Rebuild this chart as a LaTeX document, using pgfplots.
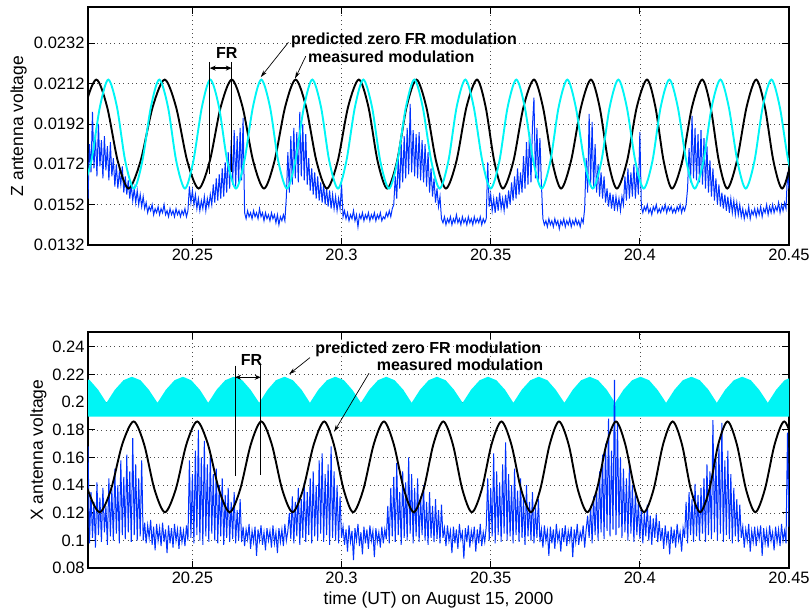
\documentclass[border=0pt]{standalone}
\usepackage{fontspec}
\setmainfont{Liberation Sans}
\usepackage{pgfplots}
\pgfplotsset{compat=1.18}
\usetikzlibrary{arrows.meta}
\definecolor{mcyan}{RGB}{0,245,245}
\definecolor{mblue}{RGB}{0,50,255}
\pgfplotsset{
  mstyle/.style={
    scale only axis, width=701pt,
    xmin=20.215, xmax=20.45,
    xtick={20.25,20.3,20.35,20.4,20.45},
    scaled x ticks=false, scaled y ticks=false,
    /pgf/number format/assume math mode=true,
    tick align=inside,
    major tick length=7pt,
    every tick/.style={black, line width=0.9pt},
    axis line style={line width=2pt},
    grid=major,
    grid style={black!70, line width=0.6pt, dash pattern=on 0.8pt off 3.6pt},
    tick label style={font=\fontsize{16.5}{19}\selectfont},
    xticklabel style={/pgf/number format/.cd, fixed, precision=2},
  },
}
\tikzset{
  annot/.style={font=\bfseries\fontsize{16}{19}\selectfont, inner sep=0pt},
  thinarrow/.style={line width=0.7pt, -{Stealth[length=7pt,width=4pt]}},
  frarrow/.style={line width=1.3pt, {Stealth[length=6pt,width=5pt]}-{Stealth[length=6pt,width=5pt]}},
  labfont/.style={font=\fontsize{17.5}{20}\selectfont},
}
\begin{document}
\begin{tikzpicture}
\path[use as bounding box] (0pt,0pt) rectangle (812pt,616pt);
% ---------------- top panel ----------------
\begin{axis}[mstyle, at={(88pt,371pt)}, anchor=south west, height=238pt,
  ymin=0.0132, ymax=0.0250,
  ytick={0.0132,0.0152,0.0172,0.0192,0.0212,0.0232},
  yticklabel style={/pgf/number format/.cd, fixed, precision=4},
  ylabel={Z antenna voltage},
  every axis y label/.style={at={(axis description cs:-0.0991,0.5)}, rotate=90, anchor=center, labfont},
]
\addplot[mblue, line width=1pt] table {
x y
20.2150 0.0155
20.2155 0.0182
20.2160 0.0168
20.2165 0.0198
20.2170 0.0170
20.2175 0.0187
20.2180 0.0166
20.2185 0.0192
20.2190 0.0171
20.2195 0.0184
20.2200 0.0165
20.2205 0.0186
20.2210 0.0169
20.2215 0.0181
20.2220 0.0164
20.2225 0.0183
20.2230 0.0166
20.2235 0.0175
20.2240 0.0161
20.2245 0.0172
20.2250 0.0160
20.2255 0.0168
20.2260 0.0162
20.2265 0.0171
20.2270 0.0158
20.2275 0.0166
20.2280 0.0157
20.2285 0.0164
20.2290 0.0155
20.2295 0.0162
20.2300 0.0154
20.2305 0.0160
20.2310 0.0153
20.2315 0.0159
20.2320 0.0152
20.2325 0.0157
20.2330 0.0151
20.2335 0.0156
20.2340 0.0150
20.2345 0.0153
20.2350 0.0148
20.2355 0.0151
20.2360 0.0149
20.2365 0.0152
20.2370 0.0147
20.2375 0.0150
20.2380 0.0148
20.2385 0.0151
20.2390 0.0147
20.2395 0.0150
20.2400 0.0148
20.2405 0.0152
20.2410 0.0147
20.2415 0.0149
20.2420 0.0146
20.2425 0.0150
20.2430 0.0147
20.2435 0.0149
20.2440 0.0146
20.2445 0.0150
20.2450 0.0147
20.2455 0.0149
20.2460 0.0146
20.2465 0.0149
20.2470 0.0147
20.2475 0.0150
20.2480 0.0146
20.2485 0.0149
20.2490 0.0161
20.2495 0.0153
20.2500 0.0159
20.2505 0.0152
20.2510 0.0157
20.2515 0.0150
20.2520 0.0155
20.2525 0.0149
20.2530 0.0154
20.2535 0.0150
20.2540 0.0156
20.2545 0.0149
20.2550 0.0155
20.2555 0.0151
20.2560 0.0157
20.2565 0.0152
20.2570 0.0162
20.2575 0.0153
20.2580 0.0165
20.2585 0.0154
20.2590 0.0167
20.2595 0.0155
20.2600 0.0170
20.2605 0.0156
20.2610 0.0173
20.2615 0.0158
20.2620 0.0178
20.2625 0.0160
20.2630 0.0184
20.2635 0.0162
20.2640 0.0189
20.2645 0.0161
20.2650 0.0186
20.2655 0.0163
20.2660 0.0190
20.2665 0.0164
20.2670 0.0195
20.2675 0.0148
20.2680 0.0145
20.2685 0.0149
20.2690 0.0146
20.2695 0.0148
20.2700 0.0145
20.2705 0.0149
20.2710 0.0146
20.2715 0.0148
20.2720 0.0145
20.2725 0.0150
20.2730 0.0146
20.2735 0.0148
20.2740 0.0144
20.2745 0.0148
20.2750 0.0145
20.2755 0.0147
20.2760 0.0144
20.2765 0.0148
20.2770 0.0145
20.2775 0.0147
20.2780 0.0143
20.2785 0.0147
20.2790 0.0142
20.2795 0.0146
20.2800 0.0144
20.2805 0.0147
20.2810 0.0144
20.2815 0.0156
20.2820 0.0178
20.2825 0.0158
20.2830 0.0186
20.2835 0.0162
20.2840 0.0190
20.2845 0.0165
20.2850 0.0188
20.2855 0.0163
20.2860 0.0198
20.2865 0.0166
20.2870 0.0192
20.2875 0.0164
20.2880 0.0187
20.2885 0.0162
20.2890 0.0175
20.2895 0.0159
20.2900 0.0170
20.2905 0.0157
20.2910 0.0168
20.2915 0.0155
20.2920 0.0166
20.2925 0.0154
20.2930 0.0163
20.2935 0.0153
20.2940 0.0162
20.2945 0.0152
20.2950 0.0160
20.2955 0.0151
20.2960 0.0159
20.2965 0.0150
20.2970 0.0157
20.2975 0.0150
20.2980 0.0156
20.2985 0.0149
20.2990 0.0155
20.2995 0.0150
20.3000 0.0162
20.3005 0.0146
20.3010 0.0149
20.3015 0.0145
20.3020 0.0148
20.3025 0.0144
20.3030 0.0147
20.3035 0.0145
20.3040 0.0149
20.3045 0.0144
20.3050 0.0147
20.3055 0.0141
20.3060 0.0147
20.3065 0.0145
20.3070 0.0148
20.3075 0.0144
20.3080 0.0147
20.3085 0.0145
20.3090 0.0148
20.3095 0.0144
20.3100 0.0147
20.3105 0.0145
20.3110 0.0148
20.3115 0.0144
20.3120 0.0147
20.3125 0.0145
20.3130 0.0148
20.3135 0.0144
20.3140 0.0146
20.3145 0.0145
20.3150 0.0148
20.3155 0.0146
20.3160 0.0149
20.3165 0.0146
20.3170 0.0150
20.3175 0.0152
20.3180 0.0166
20.3185 0.0155
20.3190 0.0175
20.3195 0.0160
20.3200 0.0182
20.3205 0.0163
20.3210 0.0186
20.3215 0.0165
20.3220 0.0190
20.3225 0.0167
20.3230 0.0202
20.3235 0.0168
20.3240 0.0189
20.3245 0.0166
20.3250 0.0187
20.3255 0.0165
20.3260 0.0188
20.3265 0.0164
20.3270 0.0184
20.3275 0.0163
20.3280 0.0182
20.3285 0.0161
20.3290 0.0178
20.3295 0.0158
20.3300 0.0170
20.3305 0.0156
20.3310 0.0165
20.3315 0.0153
20.3320 0.0160
20.3325 0.0151
20.3330 0.0156
20.3335 0.0145
20.3340 0.0143
20.3345 0.0146
20.3350 0.0142
20.3355 0.0145
20.3360 0.0143
20.3365 0.0146
20.3370 0.0142
20.3375 0.0145
20.3380 0.0143
20.3385 0.0147
20.3390 0.0143
20.3395 0.0145
20.3400 0.0142
20.3405 0.0146
20.3410 0.0143
20.3415 0.0145
20.3420 0.0142
20.3425 0.0146
20.3430 0.0143
20.3435 0.0145
20.3440 0.0142
20.3445 0.0146
20.3450 0.0143
20.3455 0.0145
20.3460 0.0143
20.3465 0.0146
20.3470 0.0142
20.3475 0.0145
20.3480 0.0143
20.3485 0.0145
20.3490 0.0173
20.3495 0.0151
20.3500 0.0157
20.3505 0.0149
20.3510 0.0155
20.3515 0.0148
20.3520 0.0156
20.3525 0.0149
20.3530 0.0158
20.3535 0.0150
20.3540 0.0155
20.3545 0.0149
20.3550 0.0157
20.3555 0.0150
20.3560 0.0159
20.3565 0.0152
20.3570 0.0163
20.3575 0.0154
20.3580 0.0166
20.3585 0.0155
20.3590 0.0170
20.3595 0.0157
20.3600 0.0168
20.3605 0.0158
20.3610 0.0176
20.3615 0.0160
20.3620 0.0183
20.3625 0.0162
20.3630 0.0188
20.3635 0.0163
20.3640 0.0191
20.3645 0.0205
20.3650 0.0165
20.3655 0.0190
20.3660 0.0164
20.3665 0.0185
20.3670 0.0162
20.3675 0.0145
20.3680 0.0142
20.3685 0.0144
20.3690 0.0141
20.3695 0.0145
20.3700 0.0142
20.3705 0.0144
20.3710 0.0141
20.3715 0.0145
20.3720 0.0142
20.3725 0.0144
20.3730 0.0140
20.3735 0.0144
20.3740 0.0142
20.3745 0.0145
20.3750 0.0141
20.3755 0.0144
20.3760 0.0142
20.3765 0.0145
20.3770 0.0141
20.3775 0.0144
20.3780 0.0142
20.3785 0.0145
20.3790 0.0142
20.3795 0.0144
20.3800 0.0141
20.3805 0.0145
20.3810 0.0143
20.3815 0.0150
20.3820 0.0175
20.3825 0.0158
20.3830 0.0197
20.3835 0.0162
20.3840 0.0193
20.3845 0.0160
20.3850 0.0182
20.3855 0.0158
20.3860 0.0172
20.3865 0.0156
20.3870 0.0168
20.3875 0.0155
20.3880 0.0166
20.3885 0.0153
20.3890 0.0160
20.3895 0.0151
20.3900 0.0158
20.3905 0.0150
20.3910 0.0157
20.3915 0.0149
20.3920 0.0156
20.3925 0.0150
20.3930 0.0155
20.3935 0.0149
20.3940 0.0156
20.3945 0.0152
20.3950 0.0166
20.3955 0.0154
20.3960 0.0170
20.3965 0.0155
20.3970 0.0168
20.3975 0.0156
20.3980 0.0172
20.3985 0.0155
20.3990 0.0169
20.3995 0.0157
20.4000 0.0188
20.4005 0.0151
20.4010 0.0148
20.4015 0.0151
20.4020 0.0149
20.4025 0.0152
20.4030 0.0148
20.4035 0.0150
20.4040 0.0147
20.4045 0.0151
20.4050 0.0149
20.4055 0.0152
20.4060 0.0148
20.4065 0.0150
20.4070 0.0148
20.4075 0.0151
20.4080 0.0149
20.4085 0.0152
20.4090 0.0148
20.4095 0.0151
20.4100 0.0149
20.4105 0.0151
20.4110 0.0148
20.4115 0.0150
20.4120 0.0148
20.4125 0.0151
20.4130 0.0149
20.4135 0.0152
20.4140 0.0148
20.4145 0.0151
20.4150 0.0149
20.4155 0.0152
20.4160 0.0160
20.4165 0.0180
20.4170 0.0163
20.4175 0.0196
20.4180 0.0165
20.4185 0.0190
20.4190 0.0164
20.4195 0.0187
20.4200 0.0163
20.4205 0.0189
20.4210 0.0162
20.4215 0.0185
20.4220 0.0160
20.4225 0.0181
20.4230 0.0158
20.4235 0.0174
20.4240 0.0156
20.4245 0.0170
20.4250 0.0154
20.4255 0.0165
20.4260 0.0152
20.4265 0.0162
20.4270 0.0151
20.4275 0.0158
20.4280 0.0150
20.4285 0.0157
20.4290 0.0149
20.4295 0.0156
20.4300 0.0148
20.4305 0.0155
20.4310 0.0148
20.4315 0.0154
20.4320 0.0147
20.4325 0.0153
20.4330 0.0147
20.4335 0.0152
20.4340 0.0146
20.4345 0.0150
20.4350 0.0145
20.4355 0.0149
20.4360 0.0146
20.4365 0.0151
20.4370 0.0145
20.4375 0.0149
20.4380 0.0147
20.4385 0.0150
20.4390 0.0146
20.4395 0.0150
20.4400 0.0147
20.4405 0.0151
20.4410 0.0146
20.4415 0.0150
20.4420 0.0148
20.4425 0.0152
20.4430 0.0147
20.4435 0.0151
20.4440 0.0148
20.4445 0.0152
20.4450 0.0148
20.4455 0.0151
20.4460 0.0149
20.4465 0.0153
20.4470 0.0148
20.4475 0.0152
20.4480 0.0149
20.4485 0.0153
20.4490 0.0150
20.4495 0.0168
20.4500 0.0160
};
\addplot[black, line width=1.9pt, smooth] coordinates {
(20.2064,0.0160) (20.2102,0.01735) (20.2140,0.02005) (20.2178,0.0214) (20.2214,0.02005) (20.2250,0.01735)
(20.2286,0.0160) (20.2326,0.01735) (20.2367,0.02005) (20.2407,0.0214) (20.2445,0.02005) (20.2483,0.01735)
(20.2521,0.0160) (20.2558,0.01735) (20.2595,0.02005) (20.2632,0.0214) (20.2668,0.02005) (20.2704,0.01735)
(20.2740,0.0160) (20.2775,0.01735) (20.2811,0.02005) (20.2846,0.0214) (20.2881,0.02005) (20.2916,0.01735)
(20.2951,0.0160) (20.2987,0.01735) (20.3022,0.02005) (20.3058,0.0214) (20.3090,0.02005) (20.3121,0.01735)
(20.3153,0.0160) (20.3186,0.01735) (20.3218,0.02005) (20.3251,0.0214) (20.3284,0.02005) (20.3317,0.01735)
(20.3350,0.0160) (20.3385,0.01735) (20.3419,0.02005) (20.3454,0.0214) (20.3483,0.02005) (20.3512,0.01735)
(20.3541,0.0160) (20.3576,0.01735) (20.3610,0.02005) (20.3645,0.0214) (20.3675,0.02005) (20.3706,0.01735)
(20.3736,0.0160) (20.3769,0.01735) (20.3803,0.02005) (20.3836,0.0214) (20.3865,0.02005) (20.3894,0.01735)
(20.3923,0.0160) (20.3957,0.01735) (20.3990,0.02005) (20.4024,0.0214) (20.4052,0.02005) (20.4080,0.01735)
(20.4108,0.0160) (20.4142,0.01735) (20.4175,0.02005) (20.4209,0.0214) (20.4237,0.02005) (20.4265,0.01735)
(20.4293,0.0160) (20.4325,0.01735) (20.4358,0.02005) (20.4390,0.0214) (20.4419,0.02005) (20.4448,0.01735)
(20.4477,0.0160) (20.4507,0.01735) (20.4538,0.02005) (20.4568,0.0214)
};
\addplot[mcyan, line width=1.9pt, smooth] coordinates {
(20.2133,0.0160) (20.2161,0.01735) (20.2190,0.02005) (20.2218,0.0214) (20.2247,0.02005) (20.2275,0.01735)
(20.2304,0.0160) (20.2332,0.01735) (20.2361,0.02005) (20.2389,0.0214) (20.2418,0.02005) (20.2446,0.01735)
(20.2475,0.0160) (20.2503,0.01735) (20.2532,0.02005) (20.2560,0.0214) (20.2589,0.02005) (20.2617,0.01735)
(20.2646,0.0160) (20.2674,0.01735) (20.2703,0.02005) (20.2731,0.0214) (20.2760,0.02005) (20.2788,0.01735)
(20.2817,0.0160) (20.2845,0.01735) (20.2874,0.02005) (20.2902,0.0214) (20.2931,0.02005) (20.2959,0.01735)
(20.2988,0.0160) (20.3016,0.01735) (20.3045,0.02005) (20.3073,0.0214) (20.3102,0.02005) (20.3130,0.01735)
(20.3159,0.0160) (20.3187,0.01735) (20.3216,0.02005) (20.3244,0.0214) (20.3272,0.02005) (20.3301,0.01735)
(20.3329,0.0160) (20.3358,0.01735) (20.3386,0.02005) (20.3415,0.0214) (20.3443,0.02005) (20.3472,0.01735)
(20.3500,0.0160) (20.3529,0.01735) (20.3557,0.02005) (20.3586,0.0214) (20.3614,0.02005) (20.3643,0.01735)
(20.3671,0.0160) (20.3700,0.01735) (20.3728,0.02005) (20.3757,0.0214) (20.3785,0.02005) (20.3814,0.01735)
(20.3842,0.0160) (20.3871,0.01735) (20.3899,0.02005) (20.3928,0.0214) (20.3956,0.02005) (20.3985,0.01735)
(20.4013,0.0160) (20.4042,0.01735) (20.4070,0.02005) (20.4099,0.0214) (20.4127,0.02005) (20.4156,0.01735)
(20.4184,0.0160) (20.4213,0.01735) (20.4241,0.02005) (20.4270,0.0214) (20.4298,0.02005) (20.4327,0.01735)
(20.4355,0.0160) (20.4384,0.01735) (20.4412,0.02005) (20.4441,0.0214) (20.4469,0.02005) (20.4498,0.01735)
(20.4526,0.0160)
};
\draw[line width=0.7pt] (axis cs:20.2558,0.02228) -- (axis cs:20.2558,0.0167);
\draw[line width=0.7pt] (axis cs:20.2632,0.02228) -- (axis cs:20.2632,0.0168);
\draw[frarrow] (axis cs:20.2558,0.02197) -- (axis cs:20.2632,0.02197);
\node[annot] at (axis cs:20.2615,0.02272) {FR};
\node[annot] at (axis cs:20.3209,0.02337) {predicted zero FR modulation};
\node[annot] at (axis cs:20.3167,0.02253) {measured modulation};
\draw[thinarrow] (axis cs:20.2822,0.02325) -- (axis cs:20.2729,0.02152);
\draw[thinarrow] (axis cs:20.2880,0.02256) -- (axis cs:20.2844,0.02145);
\end{axis}
% ---------------- bottom panel ----------------
\begin{axis}[mstyle, at={(88pt,47.7pt)}, anchor=south west, height=236pt,
  ymin=0.08, ymax=0.2504,
  ytick={0.08,0.1,0.12,0.14,0.16,0.18,0.2,0.22,0.24},
  yticklabel style={/pgf/number format/.cd, fixed, precision=2},
  ylabel={X antenna voltage},
  every axis y label/.style={at={(axis description cs:-0.0709,0.5)}, rotate=90, anchor=center, labfont},
  xlabel={time (UT) on August 15, 2000},
  every axis x label/.style={at={(axis description cs:0.5,-0.1356)}, anchor=center, labfont},
]
\addplot[fill=mcyan, draw=none] coordinates {
(20.2042,0.1995) (20.2070,0.2089) (20.2099,0.2158) (20.2127,0.2183) (20.2156,0.2158) (20.2184,0.2089)
(20.2212,0.1995) (20.2240,0.2089) (20.2269,0.2158) (20.2297,0.2183) (20.2326,0.2158) (20.2354,0.2089)
(20.2383,0.1995) (20.2411,0.2089) (20.2440,0.2158) (20.2468,0.2183) (20.2496,0.2158) (20.2525,0.2089)
(20.2553,0.1995) (20.2581,0.2089) (20.2610,0.2158) (20.2638,0.2183) (20.2667,0.2158) (20.2695,0.2089)
(20.2724,0.1995) (20.2752,0.2089) (20.2780,0.2158) (20.2809,0.2183) (20.2837,0.2158) (20.2866,0.2089)
(20.2894,0.1995) (20.2922,0.2089) (20.2951,0.2158) (20.2979,0.2183) (20.3008,0.2158) (20.3036,0.2089)
(20.3065,0.1995) (20.3093,0.2089) (20.3122,0.2158) (20.3150,0.2183) (20.3178,0.2158) (20.3207,0.2089)
(20.3235,0.1995) (20.3263,0.2089) (20.3292,0.2158) (20.3320,0.2183) (20.3349,0.2158) (20.3377,0.2089)
(20.3406,0.1995) (20.3434,0.2089) (20.3463,0.2158) (20.3491,0.2183) (20.3519,0.2158) (20.3548,0.2089)
(20.3576,0.1995) (20.3604,0.2089) (20.3633,0.2158) (20.3661,0.2183) (20.3690,0.2158) (20.3718,0.2089)
(20.3747,0.1995) (20.3775,0.2089) (20.3803,0.2158) (20.3832,0.2183) (20.3860,0.2158) (20.3889,0.2089)
(20.3917,0.1995) (20.3945,0.2089) (20.3974,0.2158) (20.4002,0.2183) (20.4031,0.2158) (20.4059,0.2089)
(20.4088,0.1995) (20.4116,0.2089) (20.4144,0.2158) (20.4173,0.2183) (20.4201,0.2158) (20.4230,0.2089)
(20.4258,0.1995) (20.4286,0.2089) (20.4315,0.2158) (20.4343,0.2183) (20.4372,0.2158) (20.4400,0.2089)
(20.4429,0.1995) (20.4457,0.2089) (20.4485,0.2158) (20.4514,0.2183) (20.4542,0.2158)
(20.4542,0.1895) (20.2042,0.1895)
} -- cycle;
\addplot[mblue, line width=1pt] table {
x y
20.2150 0.168
20.2155 0.098
20.2160 0.135
20.2165 0.102
20.2170 0.128
20.2175 0.095
20.2180 0.142
20.2185 0.104
20.2190 0.131
20.2195 0.099
20.2200 0.138
20.2205 0.106
20.2210 0.125
20.2215 0.097
20.2220 0.145
20.2225 0.103
20.2230 0.137
20.2235 0.100
20.2240 0.152
20.2245 0.105
20.2250 0.140
20.2255 0.098
20.2260 0.158
20.2265 0.104
20.2270 0.146
20.2275 0.101
20.2280 0.162
20.2285 0.106
20.2290 0.150
20.2295 0.099
20.2300 0.174
20.2305 0.104
20.2310 0.155
20.2315 0.100
20.2320 0.145
20.2325 0.103
20.2330 0.158
20.2335 0.100
20.2340 0.113
20.2345 0.098
20.2350 0.111
20.2355 0.102
20.2360 0.115
20.2365 0.097
20.2370 0.110
20.2375 0.093
20.2380 0.112
20.2385 0.100
20.2390 0.109
20.2395 0.096
20.2400 0.113
20.2405 0.099
20.2410 0.108
20.2415 0.091
20.2420 0.111
20.2425 0.098
20.2430 0.109
20.2435 0.095
20.2440 0.112
20.2445 0.100
20.2450 0.108
20.2455 0.094
20.2460 0.110
20.2465 0.099
20.2470 0.107
20.2475 0.096
20.2480 0.111
20.2485 0.100
20.2490 0.158
20.2495 0.102
20.2500 0.148
20.2505 0.098
20.2510 0.165
20.2515 0.104
20.2520 0.180
20.2525 0.100
20.2530 0.160
20.2535 0.097
20.2540 0.172
20.2545 0.103
20.2550 0.155
20.2555 0.099
20.2560 0.162
20.2565 0.105
20.2570 0.148
20.2575 0.100
20.2580 0.152
20.2585 0.098
20.2590 0.140
20.2595 0.103
20.2600 0.145
20.2605 0.097
20.2610 0.133
20.2615 0.102
20.2620 0.138
20.2625 0.099
20.2630 0.128
20.2635 0.101
20.2640 0.135
20.2645 0.098
20.2650 0.122
20.2655 0.100
20.2660 0.130
20.2665 0.099
20.2670 0.110
20.2675 0.096
20.2680 0.108
20.2685 0.101
20.2690 0.112
20.2695 0.094
20.2700 0.107
20.2705 0.099
20.2710 0.110
20.2715 0.089
20.2720 0.108
20.2725 0.100
20.2730 0.111
20.2735 0.097
20.2740 0.106
20.2745 0.093
20.2750 0.109
20.2755 0.100
20.2760 0.107
20.2765 0.095
20.2770 0.111
20.2775 0.098
20.2780 0.106
20.2785 0.091
20.2790 0.109
20.2795 0.099
20.2800 0.108
20.2805 0.096
20.2810 0.112
20.2815 0.100
20.2820 0.107
20.2825 0.120
20.2830 0.101
20.2835 0.132
20.2840 0.098
20.2845 0.128
20.2850 0.103
20.2855 0.138
20.2860 0.097
20.2865 0.130
20.2870 0.102
20.2875 0.142
20.2880 0.099
20.2885 0.135
20.2890 0.104
20.2895 0.145
20.2900 0.098
20.2905 0.150
20.2910 0.103
20.2915 0.140
20.2920 0.100
20.2925 0.158
20.2930 0.105
20.2935 0.163
20.2940 0.099
20.2945 0.148
20.2950 0.104
20.2955 0.155
20.2960 0.097
20.2965 0.168
20.2970 0.102
20.2975 0.150
20.2980 0.100
20.2985 0.140
20.2990 0.098
20.2995 0.132
20.3000 0.102
20.3005 0.110
20.3010 0.097
20.3015 0.108
20.3020 0.092
20.3025 0.111
20.3030 0.099
20.3035 0.107
20.3040 0.086
20.3045 0.109
20.3050 0.100
20.3055 0.112
20.3060 0.096
20.3065 0.106
20.3070 0.090
20.3075 0.110
20.3080 0.098
20.3085 0.108
20.3090 0.094
20.3095 0.111
20.3100 0.100
20.3105 0.107
20.3110 0.088
20.3115 0.109
20.3120 0.099
20.3125 0.106
20.3130 0.095
20.3135 0.110
20.3140 0.098
20.3145 0.108
20.3150 0.101
20.3155 0.125
20.3160 0.098
20.3165 0.138
20.3170 0.103
20.3175 0.146
20.3180 0.099
20.3185 0.156
20.3190 0.104
20.3195 0.135
20.3200 0.097
20.3205 0.150
20.3210 0.102
20.3215 0.142
20.3220 0.100
20.3225 0.160
20.3230 0.105
20.3235 0.148
20.3240 0.098
20.3245 0.138
20.3250 0.103
20.3255 0.145
20.3260 0.099
20.3265 0.132
20.3270 0.104
20.3275 0.140
20.3280 0.100
20.3285 0.128
20.3290 0.097
20.3295 0.135
20.3300 0.102
20.3305 0.125
20.3310 0.099
20.3315 0.130
20.3320 0.101
20.3325 0.122
20.3330 0.098
20.3335 0.126
20.3340 0.102
20.3345 0.109
20.3350 0.096
20.3355 0.111
20.3360 0.100
20.3365 0.107
20.3370 0.091
20.3375 0.110
20.3380 0.098
20.3385 0.108
20.3390 0.094
20.3395 0.112
20.3400 0.101
20.3405 0.106
20.3410 0.087
20.3415 0.109
20.3420 0.099
20.3425 0.111
20.3430 0.095
20.3435 0.107
20.3440 0.100
20.3445 0.110
20.3450 0.092
20.3455 0.108
20.3460 0.098
20.3465 0.112
20.3470 0.096
20.3475 0.106
20.3480 0.099
20.3485 0.110
20.3490 0.145
20.3495 0.100
20.3500 0.138
20.3505 0.103
20.3510 0.163
20.3515 0.098
20.3520 0.150
20.3525 0.104
20.3530 0.142
20.3535 0.099
20.3540 0.155
20.3545 0.105
20.3550 0.171
20.3555 0.100
20.3560 0.148
20.3565 0.103
20.3570 0.140
20.3575 0.098
20.3580 0.152
20.3585 0.104
20.3590 0.136
20.3595 0.099
20.3600 0.145
20.3605 0.102
20.3610 0.130
20.3615 0.097
20.3620 0.140
20.3625 0.103
20.3630 0.128
20.3635 0.100
20.3640 0.135
20.3645 0.098
20.3650 0.124
20.3655 0.102
20.3660 0.130
20.3665 0.099
20.3670 0.108
20.3675 0.095
20.3680 0.111
20.3685 0.100
20.3690 0.107
20.3695 0.089
20.3700 0.110
20.3705 0.098
20.3710 0.108
20.3715 0.094
20.3720 0.112
20.3725 0.100
20.3730 0.106
20.3735 0.092
20.3740 0.109
20.3745 0.099
20.3750 0.111
20.3755 0.096
20.3760 0.107
20.3765 0.100
20.3770 0.110
20.3775 0.088
20.3780 0.108
20.3785 0.099
20.3790 0.112
20.3795 0.097
20.3800 0.106
20.3805 0.101
20.3810 0.111
20.3815 0.095
20.3820 0.108
20.3825 0.118
20.3830 0.102
20.3835 0.125
20.3840 0.098
20.3845 0.132
20.3850 0.104
20.3855 0.138
20.3860 0.100
20.3865 0.150
20.3870 0.106
20.3875 0.162
20.3880 0.101
20.3885 0.170
20.3890 0.107
20.3895 0.188
20.3900 0.103
20.3905 0.165
20.3910 0.108
20.3915 0.216
20.3920 0.104
20.3925 0.186
20.3930 0.109
20.3935 0.160
20.3940 0.102
20.3945 0.152
20.3950 0.106
20.3955 0.145
20.3960 0.100
20.3965 0.155
20.3970 0.105
20.3975 0.140
20.3980 0.099
20.3985 0.135
20.3990 0.104
20.3995 0.128
20.4000 0.101
20.4005 0.124
20.4010 0.098
20.4015 0.120
20.4020 0.103
20.4025 0.126
20.4030 0.100
20.4035 0.118
20.4040 0.097
20.4045 0.116
20.4050 0.102
20.4055 0.119
20.4060 0.099
20.4065 0.114
20.4070 0.100
20.4075 0.109
20.4080 0.094
20.4085 0.111
20.4090 0.099
20.4095 0.107
20.4100 0.090
20.4105 0.110
20.4110 0.098
20.4115 0.108
20.4120 0.095
20.4125 0.112
20.4130 0.100
20.4135 0.106
20.4140 0.092
20.4145 0.109
20.4150 0.102
20.4155 0.128
20.4160 0.098
20.4165 0.135
20.4170 0.104
20.4175 0.130
20.4180 0.099
20.4185 0.141
20.4190 0.103
20.4195 0.133
20.4200 0.100
20.4205 0.138
20.4210 0.105
20.4215 0.145
20.4220 0.099
20.4225 0.155
20.4230 0.104
20.4235 0.150
20.4240 0.101
20.4245 0.187
20.4250 0.106
20.4255 0.160
20.4260 0.100
20.4265 0.170
20.4270 0.105
20.4275 0.185
20.4280 0.099
20.4285 0.158
20.4290 0.104
20.4295 0.165
20.4300 0.101
20.4305 0.148
20.4310 0.098
20.4315 0.138
20.4320 0.103
20.4325 0.130
20.4330 0.099
20.4335 0.126
20.4340 0.102
20.4345 0.110
20.4350 0.095
20.4355 0.108
20.4360 0.100
20.4365 0.112
20.4370 0.092
20.4375 0.107
20.4380 0.099
20.4385 0.110
20.4390 0.096
20.4395 0.108
20.4400 0.101
20.4405 0.111
20.4410 0.089
20.4415 0.109
20.4420 0.098
20.4425 0.107
20.4430 0.095
20.4435 0.111
20.4440 0.100
20.4445 0.106
20.4450 0.093
20.4455 0.110
20.4460 0.099
20.4465 0.108
20.4470 0.096
20.4475 0.112
20.4480 0.100
20.4485 0.107
20.4490 0.098
20.4495 0.178
20.4500 0.110
};
\addplot[black, line width=1.9pt, smooth] coordinates {
(20.2068,0.186) (20.2108,0.1696) (20.2149,0.1369) (20.2189,0.1205) (20.2227,0.1369) (20.2265,0.1696)
(20.2303,0.186) (20.2338,0.1696) (20.2373,0.1369) (20.2408,0.1205) (20.2444,0.1369) (20.2480,0.1696)
(20.2516,0.186) (20.2552,0.1696) (20.2589,0.1369) (20.2625,0.1205) (20.2660,0.1369) (20.2696,0.1696)
(20.2731,0.186) (20.2766,0.1696) (20.2801,0.1369) (20.2836,0.1205) (20.2871,0.1369) (20.2907,0.1696)
(20.2942,0.186) (20.2974,0.1696) (20.3007,0.1369) (20.3039,0.1205) (20.3073,0.1369) (20.3108,0.1696)
(20.3142,0.186) (20.3175,0.1696) (20.3209,0.1369) (20.3242,0.1205) (20.3275,0.1369) (20.3308,0.1696)
(20.3341,0.186) (20.3373,0.1696) (20.3405,0.1369) (20.3437,0.1205) (20.3470,0.1369) (20.3503,0.1696)
(20.3536,0.186) (20.3569,0.1696) (20.3602,0.1369) (20.3635,0.1205) (20.3666,0.1369) (20.3698,0.1696)
(20.3729,0.186) (20.3761,0.1696) (20.3792,0.1369) (20.3824,0.1205) (20.3856,0.1369) (20.3888,0.1696)
(20.3920,0.186) (20.3951,0.1696) (20.3983,0.1369) (20.4014,0.1205) (20.4046,0.1369) (20.4078,0.1696)
(20.4110,0.186) (20.4141,0.1696) (20.4171,0.1369) (20.4202,0.1205) (20.4233,0.1369) (20.4263,0.1696)
(20.4294,0.186) (20.4325,0.1696) (20.4356,0.1369) (20.4387,0.1205) (20.4419,0.1369) (20.4452,0.1696)
(20.4484,0.186) (20.4515,0.1696) (20.4547,0.1369) (20.4578,0.1205)
};
\draw[line width=0.7pt] (axis cs:20.2643,0.2263) -- (axis cs:20.2643,0.1463);
\draw[line width=0.7pt] (axis cs:20.2729,0.2270) -- (axis cs:20.2729,0.1472);
\draw[frarrow] (axis cs:20.2643,0.2179) -- (axis cs:20.2729,0.2179);
\node[annot] at (axis cs:20.2698,0.2304) {FR};
\node[annot] at (axis cs:20.3291,0.2381) {predicted zero FR modulation};
\node[annot] at (axis cs:20.3397,0.2268) {measured modulation};
\draw[thinarrow] (axis cs:20.2894,0.2321) -- (axis cs:20.2824,0.2201);
\draw[thinarrow] (axis cs:20.3092,0.2208) -- (axis cs:20.2975,0.1786);
\end{axis}
\end{tikzpicture}
\end{document}
